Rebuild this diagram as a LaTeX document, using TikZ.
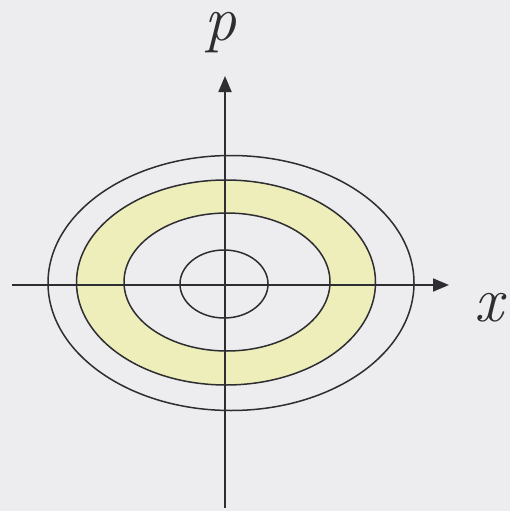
\documentclass[tikz,border=0pt]{standalone}
\usepackage{fontspec}
\usetikzlibrary{arrows.meta}
\definecolor{bgc}{RGB}{237,237,240}
\definecolor{ring}{RGB}{238,238,186}
\definecolor{linec}{RGB}{45,45,50}
\tikzset{
  ell/.style={draw=linec, line width=1.5pt},
  axis/.style={draw=linec, line width=1.8pt, -{Triangle[length=16pt,width=13pt]}},
  lbl/.style={font=\fontsize{64}{64}\selectfont\itshape, text=linec, inner sep=0pt, anchor=base}
}
\begin{document}
\begin{tikzpicture}[x=1pt,y=-1pt]
\fill[bgc] (0,0) rectangle (510,511);
\useasboundingbox (0,0) rectangle (510,511);
% yellow ring
\fill[ring, even odd rule] (226,282.5) ellipse [x radius=149.5, y radius=102.5]
  (227,282) ellipse [x radius=103, y radius=69];
% ellipses
\draw[ell] (231,283) ellipse [x radius=183, y radius=127.5];
\draw[ell] (226,282.5) ellipse [x radius=149.5, y radius=102.5];
\draw[ell] (227,282) ellipse [x radius=103, y radius=69];
\draw[ell] (224,284) ellipse [x radius=44, y radius=34];
% axes
\coordinate (xs) at (12,285);
\coordinate (xe) at (449,285);
\coordinate (ps) at (225,508);
\coordinate (pe) at (225,76);
\draw[axis] (xs) -- (xe);
\draw[axis] (ps) -- (pe);
\node[lbl] (plbl) at (220,41) {p};
\node[lbl] (xlbl) at (489,321) {x};
\end{tikzpicture}
\end{document}
